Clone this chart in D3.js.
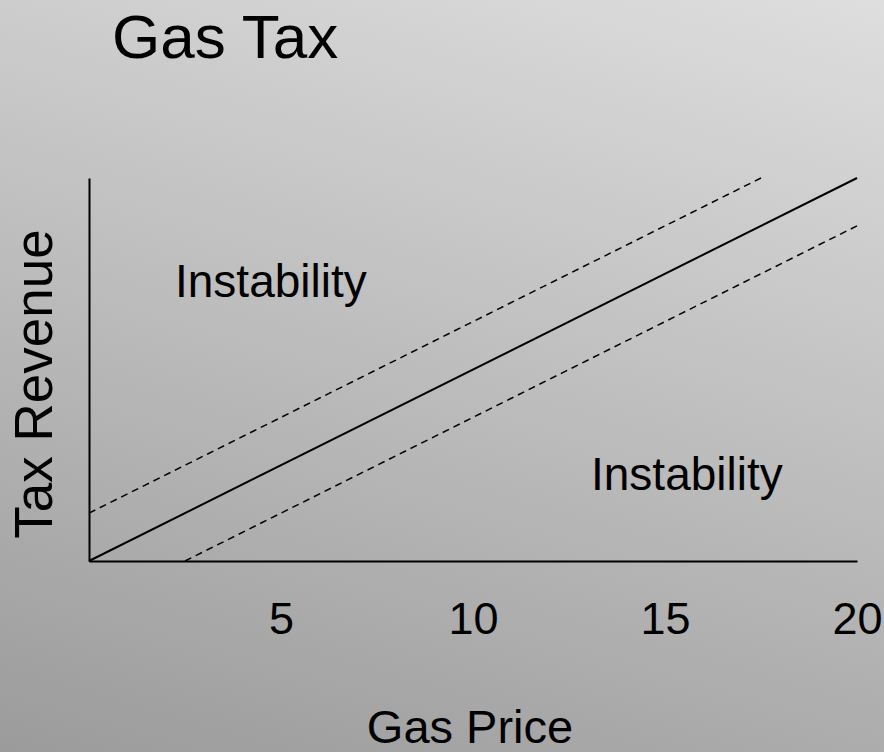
<!DOCTYPE html>
<html>
<head>
<meta charset="utf-8">
<script src="https://cdn.jsdelivr.net/npm/d3@7"></script>
<style>
  body { margin: 0; overflow: hidden; }
  svg text { font-family: "Liberation Sans", Arial, sans-serif; fill: #000; }
</style>
</head>
<body>
<svg class="parchment" width="884" height="752"></svg>
<script>
// gas price (x) vs tax revenue (y)
var price = [0, 20]
var revenue = [0, 20]
var upperPrice = [0, 17.5]
var upperRevenue = [2.5, 20]
var lowerPrice = [2.5, 20]
var lowerRevenue = [0, 17.5]
var priceTicks = [5, 10, 15, 20]

var W = 884, H = 752
var svg = d3.select(".parchment")

// slide style background
var grad = svg.append("defs").append("linearGradient")
    .attr("id", "bg")
    .attr("gradientUnits", "userSpaceOnUse")
    .attr("x1", 884).attr("y1", 0)
    .attr("x2", 616).attr("y2", 930)
grad.append("stop").attr("offset", 0).attr("stop-color", "#dedede")
grad.append("stop").attr("offset", 1).attr("stop-color", "#9b9b9b")
svg.append("rect").attr("width", W).attr("height", H).attr("fill", "url(#bg)")

var x = d3.scaleLinear().domain([0, 20]).range([89, 857])
var y = d3.scaleLinear().domain([0, 20]).range([561, 178])

var line = d3.line()
    .x(d => x(d[0]))
    .y(d => y(d[1]))

function pts(xs, ys) { return xs.map((v, i) => [v, ys[i]]) }

// x axis
var xa = svg.append("g")
    .attr("transform", "translate(0," + y(0) + ")")
    .call(d3.axisBottom(x).tickValues(priceTicks).tickSize(0).tickPadding(41))
xa.select(".domain").attr("stroke", "#000").attr("stroke-width", 2)
xa.selectAll("text").attr("font-size", 45).attr("font-family", null)

// y axis (no ticks)
var ya = svg.append("g")
    .attr("transform", "translate(" + x(0) + ",0)")
    .call(d3.axisLeft(y).tickValues([]).tickSizeOuter(0))
ya.select(".domain").attr("stroke", "#000").attr("stroke-width", 2)

svg.append("path")
    .datum(pts(price, revenue))
    .attr("d", line)
    .attr("fill", "none").attr("stroke", "#000").attr("stroke-width", 2)

svg.selectAll(".band")
    .data([pts(upperPrice, upperRevenue), pts(lowerPrice, lowerRevenue)])
    .enter().append("path")
    .attr("class", "band")
    .attr("d", line)
    .attr("fill", "none").attr("stroke", "#000")
    .attr("stroke-width", 1.5).attr("stroke-dasharray", "7,5")

// text
svg.append("text").attr("x", 112).attr("y", 58)
    .attr("font-size", 62).text("Gas Tax")

svg.append("text").attr("x", 175).attr("y", 297)
    .attr("font-size", 46).text("Instability")
svg.append("text").attr("x", 591).attr("y", 490)
    .attr("font-size", 46).text("Instability")

svg.append("text").attr("x", 470).attr("y", 743)
    .attr("text-anchor", "middle").attr("font-size", 47).text("Gas Price")

svg.append("text")
    .attr("transform", "translate(52,384) rotate(-90)")
    .attr("text-anchor", "middle").attr("font-size", 53).text("Tax Revenue")
</script>
</body>
</html>
